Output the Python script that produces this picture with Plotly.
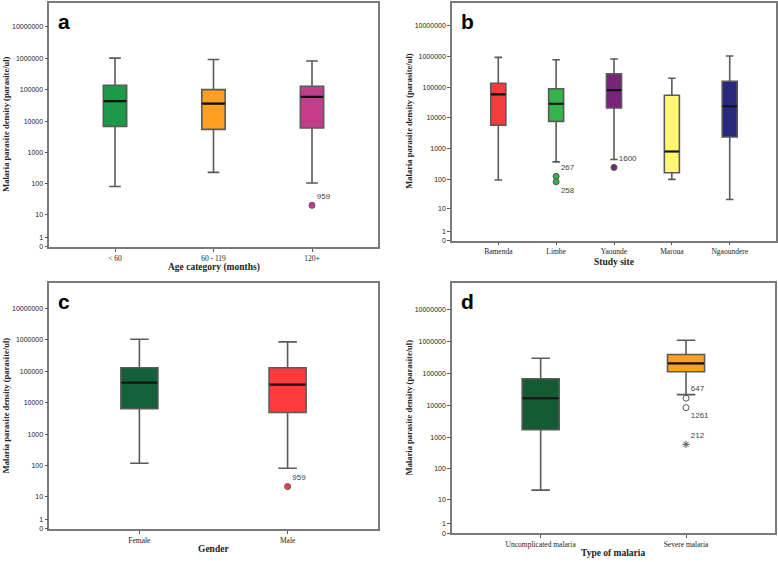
import numpy as np
import plotly.graph_objects as go

# ---------------- data (parasite/ul) ----------------
# Panel a: Age category
a_cats = ["< 60", "60 - 119", "120+"]
a_upper = [1000000, 900000, 805000]
a_q3 = [137000, 100000, 127000]
a_med = [43000, 36000, 59000]
a_q1 = [6800, 5450, 6000]
a_lower = [82, 234, 107]
a_colors = ["#1c9a48", "#ffa020", "#c43c8c"]
a_out_x = ["120+"]
a_out_y = [20]
a_out_lab = ["959"]

# Panel b: Study site
b_cats = ["Bamenda", "Limbe", "Yaounde", "Maroua", "Ngaoundere"]
b_upper = [940000, 790000, 830000, 196000, 1040000]
b_q3 = [135000, 89000, 272000, 55000, 157000]
b_med = [59000, 29000, 80000, 805, 24000]
b_q1 = [5850, 7740, 21000, 162, 2400]
b_lower = [94, 370, 443, 99, 21]
b_colors = ["#f53c3c", "#33b44a", "#7a237c", "#fff870", "#28287e"]
b_out_x = ["Limbe", "Limbe", "Yaounde"]
b_out_y = [124, 82, 243]
b_out_lab = ["267", "258", "1600"]
b_out_col = ["#33b44a", "#33b44a", "#7a237c"]

# Panel c: Gender
c_cats = ["Female", "Male"]
c_upper = [1050000, 863000]
c_q3 = [130000, 130000]
c_med = [44000, 38000]
c_q1 = [6500, 4950]
c_lower = [120, 83]
c_colors = ["#13613a", "#ff3b3b"]
c_out_x = ["Male"]
c_out_y = [21]
c_out_lab = ["959"]

# Panel d: Type of malaria
d_cats = ["Uncomplicated malaria", "Severe malaria"]
d_upper = [292000, 1060000]
d_q3 = [66500, 380000]
d_med = [16400, 200000]
d_q1 = [1700, 110000]
d_lower = [21, 21200]
d_colors = ["#145a32", "#ffa020"]
d_out_x = ["Severe malaria", "Severe malaria", "Severe malaria"]
d_out_y = [16400, 8300, 593]
d_out_lab = ["647", "1261", "212"]
d_out_sym = ["circle-open", "circle-open", "asterisk-open"]

tick_vals = [0, 1, 10, 100, 1000, 10000, 100000, 1000000, 10000000]
tick_text = [str(v) for v in tick_vals]


def tr(v):
    return np.log10(np.asarray(v, dtype=float) + 1)


W, H = 778, 562
fig = go.Figure()

panels = [
    dict(key="", cats=a_cats, up=a_upper, q3=a_q3, med=a_med, q1=a_q1, lo=a_lower,
         col=a_colors, bw=0.237, xr=[-0.667, 2.667], yr=[0, 7.76],
         dom_x=[49.3, 377.7], dom_y=[2.7, 248.3], letter="a",
         xtitle="Age category (months)", xt_y=269, yt_x=6),
    dict(key="2", cats=b_cats, up=b_upper, q3=b_q3, med=b_med, q1=b_q1, lo=b_lower,
         col=b_colors, bw=0.26, xr=[-0.8, 4.8], yr=[0, 7.755],
         dom_x=[452, 776], dom_y=[2.7, 242], letter="b",
         xtitle="Study site", xt_y=263, yt_x=409),
    dict(key="3", cats=c_cats, up=c_upper, q3=c_q3, med=c_med, q1=c_q1, lo=c_lower,
         col=c_colors, bw=0.25, xr=[-0.608, 1.608], yr=[0, 7.79],
         dom_x=[49.3, 377.7], dom_y=[285, 531.7], letter="c",
         xtitle="Gender", xt_y=552, yt_x=6),
    dict(key="4", cats=d_cats, up=d_upper, q3=d_q3, med=d_med, q1=d_q1, lo=d_lower,
         col=d_colors, bw=0.255, xr=[-0.61, 1.61], yr=[0, 7.8],
         dom_x=[452, 774.7], dom_y=[285, 536], letter="d",
         xtitle="Type of malaria", xt_y=556, yt_x=409),
]

annotations = []
for p in panels:
    xa = "x" + p["key"]
    ya = "y" + p["key"]
    for i, cat in enumerate(p["cats"]):
        fig.add_trace(go.Box(
            x=[cat], q1=[tr(p["q1"][i])], median=[tr(p["med"][i])], q3=[tr(p["q3"][i])],
            lowerfence=[tr(p["lo"][i])], upperfence=[tr(p["up"][i])],
            fillcolor=p["col"][i], line=dict(color="#5a5a5a", width=1.6),
            width=p["bw"], whiskerwidth=0.5, boxpoints=False, showlegend=False,
            hoverinfo="skip", xaxis=xa, yaxis=ya))
        # black median line
        m = tr(p["med"][i])
        fig.add_trace(go.Box(
            x=[cat], q1=[m], median=[m], q3=[m], lowerfence=[m], upperfence=[m],
            fillcolor="rgba(0,0,0,0)", line=dict(color="#111111", width=2.2),
            width=p["bw"] * 0.97, whiskerwidth=0, boxpoints=False, showlegend=False,
            hoverinfo="skip", xaxis=xa, yaxis=ya))
    dx0, dx1 = p["dom_x"]
    dy0, dy1 = p["dom_y"]
    lay_x = dict(domain=[dx0 / W, dx1 / W], range=p["xr"], type="category",
                 categoryorder="array", categoryarray=p["cats"],
                 showline=True, mirror=True, linecolor="#7a7a7a", linewidth=1.5,
                 ticks="outside", ticklen=3, tickcolor="#555", showgrid=False,
                 zeroline=False, tickfont=dict(family="Liberation Serif", size=7.5, color="#222"),
                 anchor=ya)
    lay_y = dict(domain=[1 - dy1 / H, 1 - dy0 / H], range=p["yr"],
                 tickvals=list(tr(tick_vals)), ticktext=tick_text,
                 showline=True, mirror=True, linecolor="#7a7a7a", linewidth=1.5,
                 ticks="outside", ticklen=3, tickcolor="#555", showgrid=False,
                 zeroline=False, tickfont=dict(family="Liberation Sans", size=7, color="#222"),
                 anchor=xa)
    fig.layout["xaxis" + p["key"]] = lay_x
    fig.layout["yaxis" + p["key"]] = lay_y
    annotations.append(dict(text="<b>" + p["letter"] + "</b>", xref="paper", yref="paper",
                            x=(dx0 + 7) / W, y=1 - (dy0 + 5) / H, xanchor="left", yanchor="top",
                            showarrow=False, font=dict(family="Liberation Sans", size=21, color="black")))
    annotations.append(dict(text="<b>" + p["xtitle"] + "</b>", xref="paper", yref="paper",
                            x=(dx0 + dx1) / 2 / W, y=1 - p["xt_y"] / H, xanchor="center",
                            yanchor="middle", showarrow=False,
                            font=dict(family="Liberation Serif", size=9.5, color="#222")))
    annotations.append(dict(text="<b>Malaria parasite density (parasite/ul)</b>", xref="paper",
                            yref="paper", x=p["yt_x"] / W, y=1 - (dy0 + dy1) / 2 / H,
                            xanchor="center", yanchor="middle", textangle=-90, showarrow=False,
                            font=dict(family="Liberation Serif", size=8.5, color="#222")))

# outliers
fig.add_trace(go.Scatter(x=a_out_x, y=tr(a_out_y), mode="markers+text", text=a_out_lab,
                         textposition="top right", textfont=dict(family="Liberation Sans", size=8, color="#444"),
                         marker=dict(color="#c43c8c", size=6, line=dict(color="#555", width=1)),
                         showlegend=False, hoverinfo="skip", xaxis="x", yaxis="y"))
fig.add_trace(go.Scatter(x=b_out_x, y=tr(b_out_y), mode="markers+text", text=b_out_lab,
                         textposition=["top right", "bottom right", "top right"],
                         textfont=dict(family="Liberation Sans", size=8, color="#444"),
                         marker=dict(color=b_out_col, size=6, line=dict(color="#555", width=1)),
                         showlegend=False, hoverinfo="skip", xaxis="x2", yaxis="y2"))
fig.add_trace(go.Scatter(x=c_out_x, y=tr(c_out_y), mode="markers+text", text=c_out_lab,
                         textposition="top right", textfont=dict(family="Liberation Sans", size=8, color="#444"),
                         marker=dict(color="#ff3b3b", size=6, line=dict(color="#555", width=1)),
                         showlegend=False, hoverinfo="skip", xaxis="x3", yaxis="y3"))
fig.add_trace(go.Scatter(x=d_out_x, y=tr(d_out_y), mode="markers+text", text=d_out_lab,
                         textposition=["top right", "bottom right", "top right"],
                         textfont=dict(family="Liberation Sans", size=8, color="#444"),
                         marker=dict(color="#555", size=6, symbol=d_out_sym, line=dict(color="#555", width=1)),
                         showlegend=False, hoverinfo="skip", xaxis="x4", yaxis="y4"))

fig.update_layout(width=W, height=H, margin=dict(l=0, r=0, t=0, b=0),
                  paper_bgcolor="white", plot_bgcolor="white",
                  annotations=annotations, showlegend=False)

fig.write_html("out.html", config={"displayModeBar": False},
               post_script="document.body.style.margin='0';document.body.style.padding='0';"
                           "document.documentElement.style.overflow='hidden';")
